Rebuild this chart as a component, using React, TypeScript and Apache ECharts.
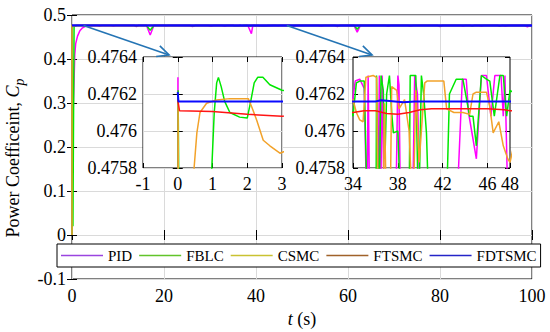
import React, { useEffect, useRef } from "react";
import * as echarts from "echarts";

const seriesNames = ["PID", "FBLC", "CSMC", "FTSMC", "FDTSMC"];
const lineColors = ["#ff00ff", "#00e800", "#f2a22a", "#ff1414", "#0a0aff"];
const legendColors = ["#9a44e0", "#62c42a", "#c9c232", "#a0622a", "#2424c8"];

const mainYTicks = { min: -0.1, max: 0.5, interval: 0.1 };
const mainXTicks = { min: 0, max: 100, interval: 20 };
const inset1X = { min: -1, max: 3, interval: 1 };
const inset2XLabels = [34, 38, 42, 46, 48];
const inset2XGrid = [38, 42, 46];
const insetY = { min: 0.4758, max: 0.4764, interval: 0.0002 };

const pidData: [number, number][] = [
  [0, 0], [0.005, 0.47629], [0.01, 0.2], [0.4, 0.33], [0.6, 0.41], [0.8, 0.435], [1.2, 0.452], [1.7, 0.464],
  [2.2, 0.47], [2.8, 0.4738], [3.5, 0.4752], [4.5, 0.4759], [5.5, 0.47612],
  [6, 0.4748], [6.5, 0.47612], [8.5, 0.47612], [9, 0.4752], [9.5, 0.47612], [13.5, 0.47612], [14, 0.4738],
  [14.5, 0.47612], [16.2, 0.47612], [17, 0.4545], [17.8, 0.47612], [20, 0.47612], [20.5, 0.4755], [21, 0.47612],
  [25.6, 0.47612], [26.2, 0.4735], [26.8, 0.47612], [29.6, 0.47612], [30.2, 0.4742], [30.8, 0.47612],
  [32.6, 0.47612], [33.2, 0.4745], [33.7, 0.47612],
  [34.0, 0.47618], [34.2, 0.47627], [34.6, 0.47628], [35.0, 0.47623], [35.25, 0.4755], [35.35, 0.4763],
  [35.5, 0.4755], [36.2, 0.4755], [36.35, 0.4763], [36.45, 0.4755], [36.6, 0.4763], [36.8, 0.4755],
  [37.8, 0.4755], [38.0, 0.4763], [38.1, 0.47625], [38.25, 0.4755], [39.0, 0.4575], [39.3, 0.4755],
  [39.5, 0.4763], [39.75, 0.4762], [40.0, 0.4755], [41.5, 0.4742], [43.2, 0.4755], [43.75, 0.47628],
  [44.1, 0.47628], [44.3, 0.4761], [45.0, 0.47585], [45.45, 0.4763], [45.9, 0.4763], [46.3, 0.47608],
  [46.65, 0.4763], [47.2, 0.4763], [47.4, 0.47608], [47.55, 0.4763], [47.85, 0.4755], [48.2, 0.4748],
  [48.6, 0.47612],
  [53.5, 0.47612], [54.2, 0.4742], [54.8, 0.47612], [57.1, 0.47612], [57.7, 0.4735], [58.3, 0.47612],
  [61.3, 0.47612], [62, 0.4612], [62.7, 0.47612], [68.1, 0.47612], [68.7, 0.4742], [69.3, 0.47612],
  [73, 0.47612], [73.6, 0.4745], [74.2, 0.47612], [79.4, 0.47612], [80, 0.4735], [80.6, 0.47612],
  [84.5, 0.47612], [85, 0.4745], [85.5, 0.47612], [86.5, 0.47612], [87, 0.4742], [87.5, 0.47612],
  [88.5, 0.47612], [89, 0.4746], [89.5, 0.47612], [92.5, 0.47612], [93, 0.4742], [93.6, 0.47612],
  [94.2, 0.4745], [94.8, 0.47612], [98.4, 0.47612], [99, 0.4732], [99.6, 0.47612], [100, 0.47612],
];

const fblcData: [number, number][] = [
  [0, 0], [0.01, 0.47622], [0.03, 0.4757], [0.2, 0.02], [0.45, 0.4745], [0.6, 0.475], [0.9, 0.4755], [0.98, 0.4758],
  [1.05, 0.4761], [1.12, 0.47626], [1.17, 0.47629], [1.25, 0.47624], [1.35, 0.47616], [1.5, 0.4761],
  [1.78, 0.476075], [2.0, 0.47607], [2.1, 0.47616], [2.2, 0.47626], [2.3, 0.47629], [2.45, 0.47629],
  [2.65, 0.47625], [3.0, 0.47622], [5, 0.4762], [13.5, 0.4762], [14, 0.4752], [14.5, 0.4762],
  [16.2, 0.4762], [17, 0.4655], [17.8, 0.4762], [25.8, 0.4762], [26.3, 0.4752], [26.8, 0.4762], [33.5, 0.4762],
  [34.0, 0.47608], [34.3, 0.47626], [34.6, 0.47627], [35.0, 0.47627], [35.3, 0.4755], [36.05, 0.4755],
  [36.1, 0.4763], [36.3, 0.4755], [36.5, 0.4763], [36.7, 0.47622], [36.85, 0.47585], [37.0, 0.4762],
  [37.25, 0.4763], [37.45, 0.4761], [37.6, 0.47599], [38.0, 0.476], [38.3, 0.4755], [38.9, 0.4748],
  [39.1, 0.4763], [39.6, 0.4763], [39.85, 0.4755], [40.1, 0.4763], [40.3, 0.4762], [40.55, 0.47599],
  [40.8, 0.4755], [42.3, 0.4755], [42.6, 0.4762], [43.2, 0.47628], [43.8, 0.47628], [44.4, 0.47608],
  [44.7, 0.47608], [45.0, 0.47592], [45.45, 0.4763], [45.9, 0.47628], [46.2, 0.47627], [46.6, 0.47608],
  [47.1, 0.4763], [47.4, 0.4763], [47.7, 0.47608], [48, 0.47622], [48.5, 0.4762],
  [57.3, 0.4762], [57.8, 0.4748], [58.3, 0.4762], [61.4, 0.4762], [62, 0.4672], [62.6, 0.4762],
  [79.5, 0.4762], [80, 0.4752], [80.5, 0.4762], [86.6, 0.4762], [87, 0.475], [87.4, 0.4762],
  [92.6, 0.4762], [93, 0.4752], [93.4, 0.4762], [100, 0.4762],
];

const csmcData: [number, number][] = [
  [0, 0], [0.01, 0.47615], [0.03, 0.475], [0.3, 0.4753], [0.47, 0.4758], [0.55, 0.47599], [0.64, 0.4761],
  [0.83, 0.47615], [1.12, 0.476168], [1.5, 0.476175], [2.03, 0.476175], [2.13, 0.47613], [2.27, 0.47606],
  [2.46, 0.47595], [2.65, 0.47592], [2.94, 0.47588], [3.5, 0.47592], [5, 0.4761], [33.5, 0.4761],
  [34.0, 0.47617], [34.3, 0.4761], [34.6, 0.47606], [34.9, 0.47605], [35.15, 0.47629], [35.8, 0.4763],
  [36.1, 0.47629], [36.25, 0.4755], [36.7, 0.4755], [36.8, 0.47615], [37.0, 0.4755], [37.3, 0.4755],
  [37.45, 0.47624], [37.9, 0.47622], [38.1, 0.47612], [38.6, 0.47617], [39.0, 0.476], [39.35, 0.4755],
  [39.6, 0.47622], [39.9, 0.47583], [40.4, 0.47626], [40.6, 0.47627], [42.1, 0.47627], [42.35, 0.47612],
  [43.0, 0.4761], [43.8, 0.4761], [44.4, 0.47609], [44.7, 0.4762], [45.0, 0.47621], [45.9, 0.47621],
  [46.2, 0.47613], [46.5, 0.47599], [47.0, 0.47605], [47.4, 0.47592], [47.8, 0.47585], [48, 0.47583],
  [49, 0.4761], [100, 0.4761],
];

const ftsmcData: [number, number][] = [
  [0, 0.47617], [0.05, 0.47611], [1, 0.476105], [2, 0.47609], [3, 0.47608], [5, 0.4761],
  [34, 0.4761], [35, 0.47611], [36, 0.47611], [37, 0.476095], [38, 0.47609], [39, 0.4761], [40, 0.476115],
  [41, 0.47612], [42, 0.47612], [44, 0.47612], [46, 0.47612], [47.5, 0.476115], [48, 0.47611], [100, 0.47611],
];

const fdtsmcData: [number, number][] = [
  [0, 0.47621], [0.02, 0.47616], [36, 0.47616], [36.5, 0.476166], [38.5, 0.476156],
  [39.5, 0.47616], [100, 0.47616],
];

const allData = [pidData, fblcData, csmcData, ftsmcData, fdtsmcData];

// arrow anchors: [main-chart data point] -> [inset data point]
const arrowStarts: [number, number][] = [[2.5, 0.4762], [46.7, 0.4762]];
const arrowEnds: [number, number][] = [[-0.25, 0.4764], [35.7, 0.4764]];

const FONT = "Liberation Serif";
const GRID_C = "#dadada";
const LBL_SIZE = 18;

function fmt(v: number) {
  return String(Number(v.toFixed(6)));
}

function lbl(extra: any = {}) {
  return {
    show: true,
    fontFamily: FONT,
    fontSize: LBL_SIZE,
    color: "#000",
    formatter: (v: number) => fmt(v),
    ...extra,
  };
}

function valueAxis(extra: any) {
  return {
    type: "value",
    axisLine: { show: false },
    axisTick: { show: true, inside: true, length: 5, lineStyle: { color: "#000", width: 1 } },
    axisLabel: lbl(),
    splitLine: { show: true, lineStyle: { color: GRID_C, width: 1 } },
    ...extra,
  };
}

function buildOption() {
  const grids = [
    { left: 72, top: 15, width: 460, height: 264, show: true, borderColor: "#000", borderWidth: 1, backgroundColor: "transparent", z: 0, outerBoundsMode: "none" },
    { left: 143, top: 57, width: 139, height: 111, show: true, borderColor: "#000", borderWidth: 1, backgroundColor: "#fff", z: 3, outerBoundsMode: "none" },
    { left: 353, top: 57, width: 157, height: 111, show: true, borderColor: "#000", borderWidth: 1, backgroundColor: "#fff", z: 3, outerBoundsMode: "none" },
  ];

  const xAxes: any[] = [
    valueAxis({
      gridIndex: 0, position: "bottom", ...mainXTicks,
      axisLabel: lbl({ margin: 8 }),
      name: "{i|t} (s)", nameLocation: "middle", nameGap: 31,
      nameTextStyle: { fontFamily: FONT, fontSize: 18, color: "#000", rich: { i: { fontFamily: FONT, fontSize: 18, fontStyle: "italic", color: "#000" } } },
    }),
    valueAxis({ gridIndex: 0, position: "top", ...mainXTicks, axisLabel: { show: false }, splitLine: { show: false } }),
    valueAxis({ gridIndex: 1, position: "bottom", ...inset1X, z: 4, axisLabel: lbl({ margin: 7 }) }),
    valueAxis({ gridIndex: 1, position: "top", ...inset1X, z: 4, axisLabel: { show: false }, splitLine: { show: false } }),
    valueAxis({
      gridIndex: 2, position: "bottom", min: 34, max: 48, z: 4,
      axisLabel: lbl({ margin: 7, customValues: inset2XLabels }),
      axisTick: { show: true, inside: true, length: 5, lineStyle: { color: "#000" }, customValues: inset2XLabels },
      splitLine: { show: false },
    }),
    valueAxis({
      gridIndex: 2, position: "top", min: 34, max: 48, z: 4,
      axisLabel: { show: false },
      axisTick: { show: true, inside: true, length: 5, lineStyle: { color: "#000" }, customValues: inset2XGrid },
      splitLine: { show: false },
    }),
  ];

  const yAxes: any[] = [
    valueAxis({
      gridIndex: 0, position: "left", ...mainYTicks,
      axisLabel: lbl({ margin: 6 }),
      name: "{a|Power Coefficeint, }{b|C}{c|p}", nameLocation: "middle", nameGap: 41,
      nameTextStyle: {
        fontFamily: FONT, fontSize: 18, color: "#000", padding: [0, 22, 0, 0],
        rich: {
          a: { fontFamily: FONT, fontSize: 18, color: "#000", verticalAlign: "bottom", padding: [0, 0, 5, 0] },
          b: { fontFamily: FONT, fontSize: 18, color: "#000", fontStyle: "italic", verticalAlign: "bottom", padding: [0, 0, 5, 0] },
          c: { fontFamily: FONT, fontSize: 14, color: "#000", fontStyle: "italic", verticalAlign: "bottom" },
        },
      },
    }),
    valueAxis({ gridIndex: 0, position: "right", ...mainYTicks, axisLabel: { show: false }, splitLine: { show: false } }),
    valueAxis({ gridIndex: 1, position: "left", ...insetY, z: 4, axisLabel: lbl({ margin: 6 }) }),
    valueAxis({ gridIndex: 1, position: "right", ...insetY, z: 4, axisLabel: { show: false }, splitLine: { show: false } }),
    valueAxis({ gridIndex: 2, position: "left", ...insetY, z: 4, axisLabel: lbl({ margin: 8 }) }),
    valueAxis({ gridIndex: 2, position: "right", ...insetY, z: 4, axisLabel: { show: false }, splitLine: { show: false } }),
  ];

  const series: any[] = [];
  series.push({
    type: "line", name: "__grid2", data: [], xAxisIndex: 4, yAxisIndex: 4, silent: true, z: 4,
    markLine: {
      silent: true, symbol: ["none", "none"], z: 4, animation: false,
      label: { show: false },
      lineStyle: { color: GRID_C, type: "solid", width: 1 },
      data: inset2XGrid.map((v) => ({ xAxis: v })),
    },
  });
  for (let g = 0; g < 3; g++) {
    for (let i = 0; i < 5; i++) {
      series.push({
        type: "line",
        name: seriesNames[i],
        data: allData[i],
        xAxisIndex: g * 2,
        yAxisIndex: g * 2,
        symbol: "none",
        showSymbol: false,
        clip: true,
        silent: true,
        z: g === 0 ? 2 : 6,
        lineStyle: { color: lineColors[i], width: i === 4 ? (g === 0 ? 2.3 : 2) : 1.5 },
        itemStyle: { color: lineColors[i] },
        emphasis: { disabled: true },
      });
    }
  }

  return {
    animation: false,
    backgroundColor: "#fff",
    textStyle: { fontFamily: FONT, color: "#000" },
    grid: grids,
    xAxis: xAxes,
    yAxis: yAxes,
    legend: {
      left: 57, top: 244, orient: "horizontal",
      itemWidth: 42, itemHeight: 14, itemGap: 7,
      padding: [4, 4, 4, 4],
      borderColor: "#000", borderWidth: 1, backgroundColor: "#fff",
      z: 10,
      selectedMode: false,
      textStyle: { fontFamily: FONT, fontSize: 15, color: "#000" },
      data: seriesNames.map((n, i) => ({
        name: n,
        icon: "path://M0,0H42V1.5H0Z",
        itemStyle: { color: legendColors[i], borderWidth: 0 },
      })),
    },
    series,
  };
}

export default function App() {
  const ref = useRef<HTMLDivElement>(null);
  useEffect(() => {
    document.body.style.margin = "0";
    const chart = echarts.init(ref.current!, null, { renderer: "svg" });
    chart.setOption(buildOption() as any);

    const stroke = "#2474b4";
    const graphics: any[] = [];
    const insetAxis = [2, 4];
    for (let k = 0; k < 2; k++) {
      const s = chart.convertToPixel({ xAxisIndex: 0, yAxisIndex: 0 } as any, arrowStarts[k]) as number[];
      const e = chart.convertToPixel({ xAxisIndex: insetAxis[k], yAxisIndex: insetAxis[k] } as any, arrowEnds[k]) as number[];
      const tx = e[0];
      const ty = e[1] - 2;
      const ang = Math.atan2(ty - s[1], tx - s[0]);
      const L = 13;
      const spread = 0.45;
      const p1 = [tx - L * Math.cos(ang - spread), ty - L * Math.sin(ang - spread)];
      const p2 = [tx - L * Math.cos(ang + spread), ty - L * Math.sin(ang + spread)];
      graphics.push({
        type: "line", z: 20, silent: true,
        shape: { x1: s[0], y1: s[1], x2: tx, y2: ty },
        style: { stroke, lineWidth: 1.6 },
      });
      graphics.push({
        type: "polyline", z: 20, silent: true,
        shape: { points: [p1, [tx, ty], p2] },
        style: { stroke, lineWidth: 1.6, fill: null },
      });
    }
    chart.setOption({ graphic: graphics });
    return () => chart.dispose();
  }, []);
  return <div ref={ref} style={{ width: 550, height: 332 }} />;
}
